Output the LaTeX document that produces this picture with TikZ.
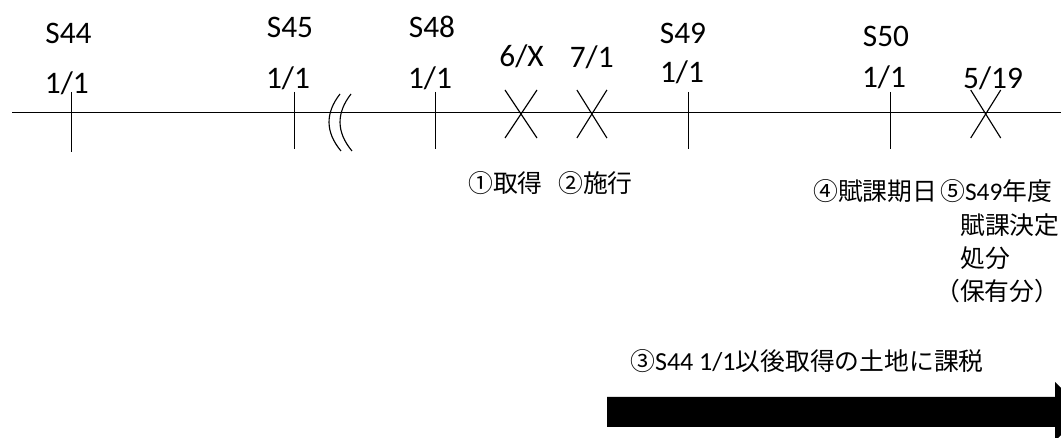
\documentclass[tikz,border=0pt]{standalone}
\usepackage{fontspec}
\setmainfont{Carlito}
\newfontfamily\jp{Noto Sans CJK JP}
\begin{document}
\begin{tikzpicture}[x=0.75pt,y=-0.75pt,
  axis/.style={line width=0.9pt},
  tickmark/.style={line width=0.85pt},
  brk/.style={line width=0.85pt},
  lab/.style={inner sep=0pt,anchor=base,font=\fontsize{23.5}{28}\selectfont},
  jlab/.style={inner sep=0pt,anchor=base west,font=\fontsize{18.6}{22}\selectfont}]
\useasboundingbox (0,0) rectangle (1061,438);
\clip (0,0) rectangle (1061,438);
% axis
\coordinate (L) at (12,112.5);
\coordinate (R) at (1061,112.5);
\draw[axis] (L) -- (R);
% ticks
\foreach \n/\x/\b in {t44/71.5/152,t45/294.5/149,t48/435.5/149,t49/688.5/149,t50/890.5/149}{
  \coordinate (\n) at (\x,112.5);
  \draw[tickmark] (\x,92) -- (\x,\b);
}
% crosses
\foreach \n/\x/\w in {x1/521/16,x2/591.9/15,x3/985.7/15}{
  \coordinate (\n) at (\x,113.5);
  \draw[tickmark] (\x-\w,90) -- (\x+\w,138);
  \draw[tickmark] (\x+\w,90) -- (\x-\w,138);
}
% break marks
\draw[brk] (340,94) .. controls (325.2,113) and (325.2,132) .. (341,151);
\draw[brk] (351,94) .. controls (336.2,113) and (336.2,132) .. (352,151);
% date labels
\node[lab] (s44a) at (68.5,44) {S44};
\node[lab] (s44b) at (66.8,93.5) {1/1};
\node[lab] (s45a) at (290,37.2) {S45};
\node[lab] (s45b) at (288,89) {1/1};
\node[lab] (s48a) at (432,37.2) {S48};
\node[lab] (s48b) at (430,89) {1/1};
\node[lab] (d6x) at (521.5,66.7) {6/X};
\node[lab] (d71) at (591.7,67.6) {7/1};
\node[lab] (s49a) at (683,44) {S49};
\node[lab] (s49b) at (682,82.8) {1/1};
\node[lab] (s50a) at (886,46.7) {S50};
\node[lab] (s50b) at (884,87.2) {1/1};
\node[lab] (d519) at (993,88.6) {5/19};
% event labels
\node[jlab] (j1) at (468,193) {\jp ①取得};
\node[jlab] (j2) at (558,193) {\jp ②施行};
\node[jlab] (j4) at (813,201) {\jp ④賦課期日};
\node[jlab] (j5) at (940,201) {{\jp ⑤}{\fontsize{19}{22}\selectfont S49}{\jp 年度}};
\node[jlab] (j5b) at (960,235) {\jp 賦課決定};
\node[jlab] (j5c) at (960,268) {\jp 処分};
\node[jlab] (j5d) at (935,301) {\jp （保有分）};
\node[jlab] (j3) at (630,371) {{\jp ③}{\fontsize{19.5}{22}\selectfont S44 1/1}{\jp 以後取得の土地に課税}};
% period arrow
\fill (607,397) -- (1055,397) -- (1055,382) -- (1085,411.5) -- (1055,441) -- (1055,427) -- (607,427) -- cycle;
\end{tikzpicture}
\end{document}
